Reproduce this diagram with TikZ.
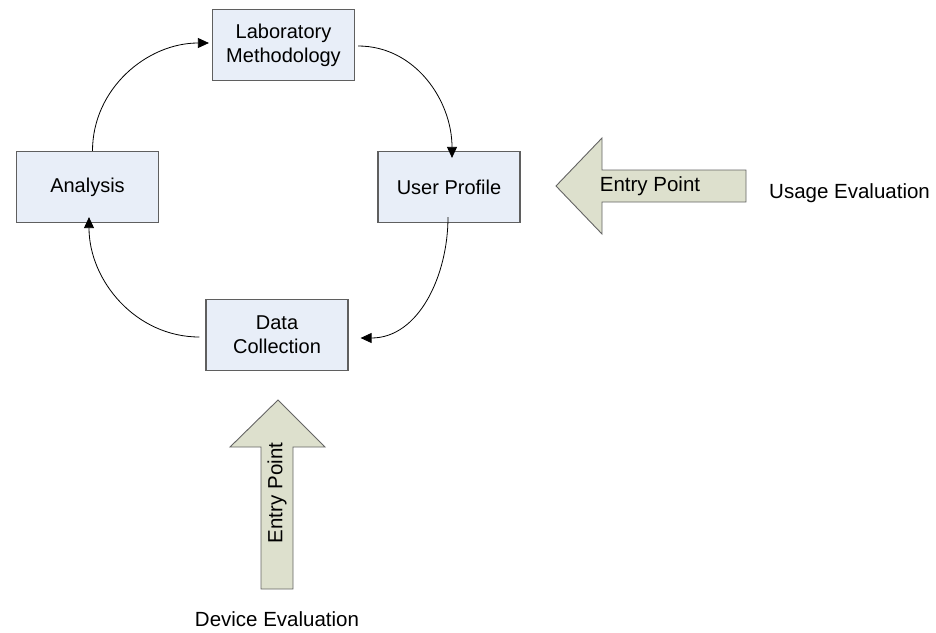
\documentclass[tikz,border=0pt]{standalone}
\usepackage{fontspec}
\setmainfont{Liberation Sans}
\usetikzlibrary{arrows.meta,calc}
\definecolor{boxfill}{RGB}{232,238,248}
\definecolor{boxline}{RGB}{95,95,95}
\definecolor{arrfill}{RGB}{221,224,205}
\definecolor{arrline}{RGB}{100,100,100}
\begin{document}
\begin{tikzpicture}[x=1pt,y=-1pt,
  stagebox/.style={draw=boxline,fill=boxfill,line width=1.2pt,minimum width=142pt,minimum height=71pt,inner sep=0pt,align=center,font=\fontsize{20}{24}\selectfont},
  cycle/.style={line width=0.8pt,-{Triangle[length=11pt,width=10pt]}},
  bigarrow/.style={draw=arrline,fill=arrfill,line width=0.9pt},
  lbl/.style={font=\fontsize{20.5}{24}\selectfont,inner sep=0pt}]
\useasboundingbox (0,0) rectangle (936,632);
\node[stagebox] (lab) at (283.5,45) {Laboratory\\Methodology};
\node[stagebox] (ana) at (87.5,187) {Analysis};
\node[stagebox] (usr) at (449,187) {User Profile};
\node[stagebox] (dat) at (277,335) {Data\\Collection};
% cycle connectors
\draw[cycle] ([xshift=5pt]ana.north) to[out=90,in=180] ([xshift=-3pt,yshift=2pt]lab.west);
\draw[cycle] ([xshift=3pt,yshift=-1pt]lab.east) to[out=0,in=90] ([xshift=3pt,yshift=-7pt]usr.north);
\draw[cycle] ([yshift=6pt,xshift=-1pt]usr.south) to[out=-90,in=0] ([xshift=12pt,yshift=-3pt]dat.east);
\draw[cycle] ([xshift=-6pt,yshift=-2pt]dat.west) to[out=180,in=-90] ([xshift=1.5pt,yshift=6pt]ana.south);
% entry arrows
\draw[bigarrow] (556,186) -- (602,138) -- (602,170) -- (746,170) -- (746,202) -- (602,202) -- (602,234) -- cycle;
\node[lbl] (e1) at (650,186) {Entry Point};
\node[lbl,anchor=base west] (ue) at (769,198) {Usage Evaluation};
\draw[bigarrow] (278,400) -- (325,447) -- (293,447) -- (293,589) -- (261,589) -- (261,447) -- (230,447) -- cycle;
\node[lbl,rotate=90] (e2) at (277,493) {Entry Point};
\node[lbl,anchor=base] (de) at (277,626) {Device Evaluation};
\end{tikzpicture}
\end{document}
